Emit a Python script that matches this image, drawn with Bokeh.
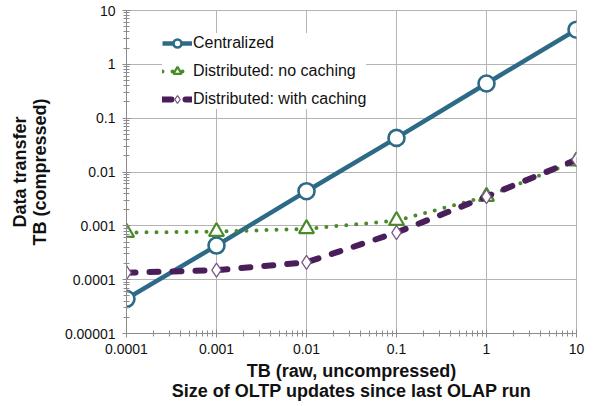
from bokeh.plotting import figure
from bokeh.models import FixedTicker, Legend, LegendItem
from bokeh.embed import file_html
from bokeh.resources import INLINE

# ---- data ----
tb_raw = [0.0001, 0.001, 0.01, 0.1, 1, 10]
centralized = [0.000044, 0.00043, 0.0044, 0.043, 0.44, 4.4]
dist_no_cache = [0.00075, 0.00078, 0.00088, 0.00125, 0.0035, 0.016]
dist_cache = [0.000135, 0.00015, 0.00021, 0.00075, 0.0035, 0.017]

x_ticks = [0.0001, 0.001, 0.01, 0.1, 1, 10]
x_tick_labels = ["0.0001", "0.001", "0.01", "0.1", "1", "10"]
y_ticks = [0.00001, 0.0001, 0.001, 0.01, 0.1, 1, 10]
y_tick_labels = ["0.00001", "0.0001", "0.001", "0.01", "0.1", "1", "10"]

series_names = ["Centralized", "Distributed: no caching", "Distributed: with caching"]

FONT = "Liberation Sans"
C_BLUE = "#2C6A88"
C_GREEN = "#4A8A2A"
C_PURPLE = "#4A1D5B"
GRID = "#B4B4B4"
AXIS = "#8C8C8C"


def minors(majors):
    out = []
    for m in majors[:-1]:
        for k in range(2, 10):
            out.append(m * k)
    return out


p = figure(width=590, height=404, x_axis_type="log", y_axis_type="log",
           x_range=(0.0001, 10), y_range=(0.00001, 10),
           output_backend="svg", toolbar_location=None,
           min_border_left=126, min_border_right=14,
           min_border_top=10, min_border_bottom=71)

p.outline_line_color = GRID
p.outline_line_width = 1
p.background_fill_color = "white"
p.border_fill_color = "white"

p.xaxis.ticker = FixedTicker(ticks=x_ticks, minor_ticks=minors(x_ticks))
p.yaxis.ticker = FixedTicker(ticks=y_ticks, minor_ticks=minors(y_ticks))
p.xaxis.major_label_overrides = {t: l for t, l in zip(x_ticks, x_tick_labels)}
p.yaxis.major_label_overrides = {t: l for t, l in zip(y_ticks, y_tick_labels)}

for ax in (p.xaxis[0], p.yaxis[0]):
    ax.axis_line_color = AXIS
    ax.major_tick_line_color = AXIS
    ax.minor_tick_line_color = AXIS
    ax.major_tick_in = 4
    ax.major_tick_out = 4
    ax.minor_tick_in = 3
    ax.minor_tick_out = 3
    ax.major_label_text_font = FONT
    ax.major_label_text_font_size = "14px"
    ax.major_label_text_color = "#111111"
    ax.axis_label_text_font = FONT
    ax.axis_label_text_font_size = "18px"
    ax.axis_label_text_font_style = "bold"
    ax.axis_label_text_color = "#111111"
    ax.axis_label_text_line_height = 1.0

p.xaxis.major_label_standoff = 6
p.yaxis.major_label_standoff = 7
p.xaxis.axis_label = "TB (raw, uncompressed)\nSize of OLTP updates since last OLAP run"
p.yaxis.axis_label = "Data transfer\nTB (compressed)"
p.xaxis.axis_label_standoff = 4
p.yaxis.axis_label_standoff = 12
p.xaxis.axis_label_text_align = "center"
p.yaxis.axis_label_text_align = "center"

p.xgrid.ticker = p.xaxis.ticker
p.ygrid.ticker = p.yaxis.ticker
p.grid.grid_line_color = GRID
p.grid.grid_line_width = 1

# Centralized
l1 = p.line(tb_raw, centralized, line_color=C_BLUE, line_width=4.5)
m1 = p.scatter(tb_raw, centralized, marker="circle", size=16,
               line_color=C_BLUE, line_width=2.6, fill_color="white")

# Distributed: no caching
l2 = p.line(tb_raw, dist_no_cache, line_color=C_GREEN, line_width=4,
            line_dash="0 10", line_cap="round")
m2 = p.scatter(tb_raw, dist_no_cache, marker="triangle", size=15,
               line_color=C_GREEN, line_width=2.2, fill_color="white")

# Distributed: with caching
l3 = p.line(tb_raw, dist_cache, line_color=C_PURPLE, line_width=6,
            line_dash="9 14", line_cap="round")
m3 = p.scatter(tb_raw, dist_cache, marker="diamond", size=14,
               line_color="#7A5A86", line_width=1.3, fill_color="white")

legend = Legend(items=[
    LegendItem(label=series_names[0], renderers=[l1, m1]),
    LegendItem(label=series_names[1], renderers=[l2, m2]),
    LegendItem(label=series_names[2], renderers=[l3, m3]),
], location=(36, 224))
legend.label_text_font = FONT
legend.label_text_font_size = "16px"
legend.label_text_color = "#111111"
legend.border_line_color = None
legend.background_fill_color = "white"
legend.background_fill_alpha = 1.0
legend.glyph_width = 30
legend.glyph_height = 20
legend.label_height = 20
legend.label_standoff = 1
legend.spacing = 8
legend.padding = 10
legend.margin = 0
p.add_layout(legend, "center")

open("out.html", "w").write(file_html(p, INLINE))
